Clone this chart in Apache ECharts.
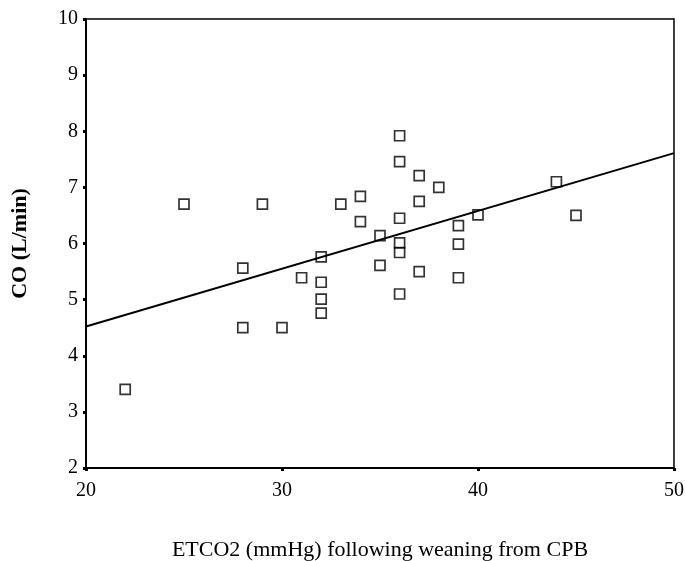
<!DOCTYPE html>
<html>
<head>
<meta charset="utf-8">
<script src="https://cdn.jsdelivr.net/npm/echarts@6/dist/echarts.min.js"></script>
<style>
  html, body { margin: 0; padding: 0; background: #fff; }
  #chart { width: 685px; height: 561px; }
</style>
</head>
<body>
<div id="chart"></div>
<script>
// ETCO2 (mmHg) after weaning from CPB vs cardiac output
const etco2 = [22, 25, 29, 28, 28, 30, 31, 32, 32, 32, 32, 33, 34, 34, 35, 35,
  36, 36, 36, 36, 36, 36, 37, 37, 37, 38, 39, 39, 39, 40, 44, 45]
const co = [3.4, 6.7, 6.7, 5.56, 4.5, 4.5, 5.39, 5.76, 5.31, 5.01, 4.76, 6.7, 6.84, 6.39, 6.14, 5.61,
  7.92, 7.46, 6.45, 6.01, 5.84, 5.1, 7.21, 6.75, 5.5, 7.0, 6.32, 5.99, 5.39, 6.51, 7.1, 6.5]

// fitted regression line, read at both ends of the x range
const fitX = [20, 50]
const fitY = [4.52, 7.61]

const xTicks = [20, 30, 40, 50]

const font = 'Liberation Serif'
const chart = echarts.init(document.getElementById('chart'))

chart.setOption({
  animation: false,
  backgroundColor: '#fff',
  grid: {
    left: 86,
    right: 11,
    top: 19,
    bottom: 93,
    outerBoundsMode: 'none',
    show: true,
    borderColor: '#000',
    borderWidth: 1.5
  },
  xAxis: {
    type: 'value',
    min: xTicks[0],
    max: xTicks[xTicks.length - 1],
    interval: 10,
    name: 'ETCO2 (mmHg) following weaning from CPB',
    nameLocation: 'middle',
    nameGap: 71,
    nameTextStyle: { fontFamily: font, fontSize: 22, color: '#000' },
    axisLine: { lineStyle: { color: '#000', width: 2 } },
    axisTick: { length: 3, lineStyle: { color: '#000', width: 3 } },
    axisLabel: { fontFamily: font, fontSize: 20, color: '#000', margin: 13 },
    splitLine: { show: false }
  },
  yAxis: {
    type: 'value',
    min: 2,
    max: 10,
    interval: 1,
    name: 'CO (L/min)',
    nameLocation: 'middle',
    nameGap: 55,
    nameTextStyle: { fontFamily: font, fontSize: 22, fontWeight: 'bold', color: '#000' },
    axisLine: { lineStyle: { color: '#000', width: 2 } },
    axisTick: { length: 3, lineStyle: { color: '#000', width: 3 } },
    axisLabel: { fontFamily: font, fontSize: 20, color: '#000', margin: 8 },
    splitLine: { show: false }
  },
  series: [
    {
      type: 'line',
      data: fitX.map((x, i) => [x, fitY[i]]),
      showSymbol: false,
      lineStyle: { color: '#000', width: 2 },
      z: 2
    },
    {
      type: 'scatter',
      data: etco2.map((x, i) => [x, co[i]]),
      symbol: 'rect',
      symbolSize: 10,
      itemStyle: { color: 'rgba(0,0,0,0)', borderColor: '#000', borderWidth: 1.7 },
      z: 3
    }
  ]
})
</script>
</body>
</html>
